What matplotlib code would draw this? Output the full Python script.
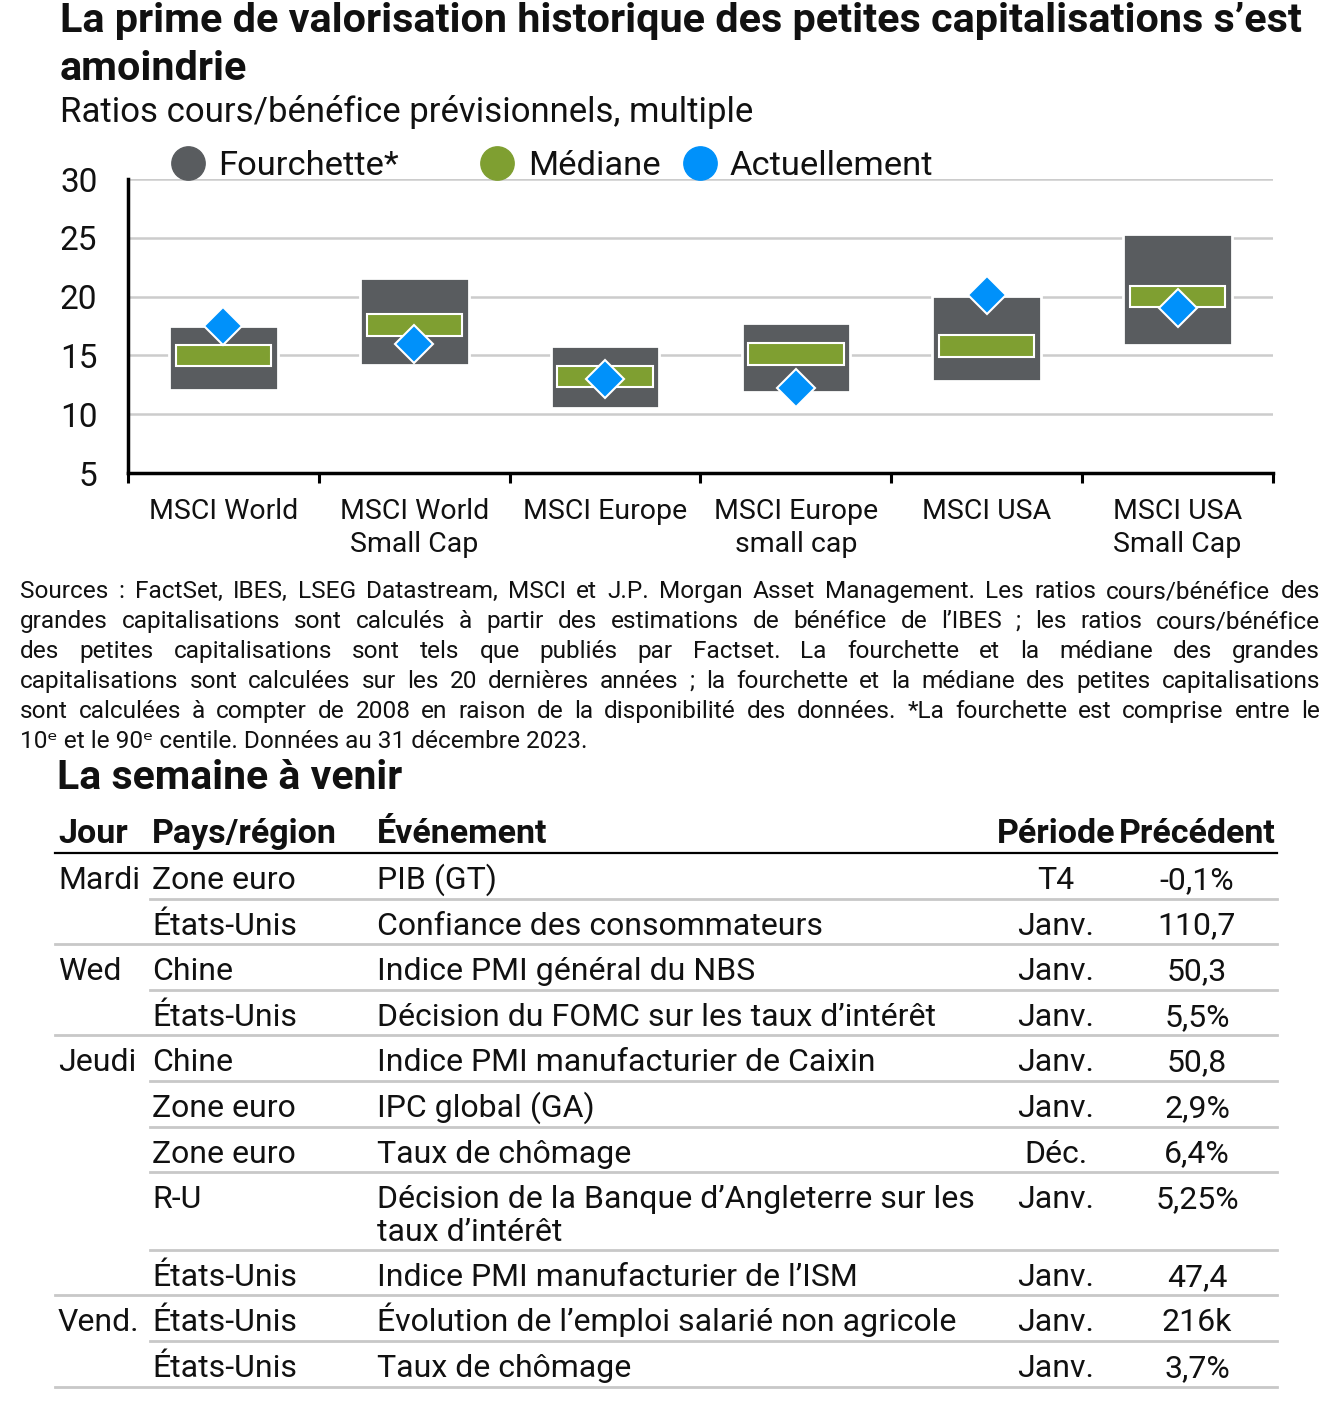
import matplotlib
matplotlib.use("Agg")
import matplotlib.pyplot as plt
from matplotlib.lines import Line2D

plt.rcParams['font.family'] = ['Roboto', 'DejaVu Sans']

W, H = 1331, 1418

def X(x):
    return x / W

def Y(y):
    return 1 - y / H

# données du graphique
categories = ["MSCI World", "MSCI World\nSmall Cap", "MSCI Europe", "MSCI Europe\nsmall cap",
              "MSCI USA", "MSCI USA\nSmall Cap"]
range_low = [12.1, 14.2, 10.5, 11.9, 12.8, 15.9]
range_high = [17.5, 21.6, 15.8, 17.75, 20.05, 25.3]
median = [15.0, 17.6, 13.2, 15.1, 15.8, 20.0]
current = [17.5, 16.0, 13.0, 12.2, 20.1, 19.0]
yticks = [5, 10, 15, 20, 25, 30]

# données du tableau
days = ["Mardi", "", "Wed", "", "Jeudi", "", "", "", "", "Vend.", ""]
countries = ["Zone euro", "États-Unis", "Chine", "États-Unis", "Chine", "Zone euro",
             "Zone euro", "R-U", "États-Unis", "États-Unis", "États-Unis"]
events = ["PIB (GT)", "Confiance des consommateurs", "Indice PMI général du NBS",
          "Décision du FOMC sur les taux d’intérêt", "Indice PMI manufacturier de Caixin",
          "IPC global (GA)", "Taux de chômage",
          "Décision de la Banque d’Angleterre sur les\ntaux d’intérêt",
          "Indice PMI manufacturier de l’ISM", "Évolution de l’emploi salarié non agricole",
          "Taux de chômage"]
periods = ["T4", "Janv.", "Janv.", "Janv.", "Janv.", "Janv.", "Déc.", "Janv.", "Janv.", "Janv.", "Janv."]
previous = ["-0,1%", "110,7", "50,3", "5,5%", "50,8", "2,9%", "6,4%", "5,25%", "47,4", "216k", "3,7%"]

footnote = [
    "Sources : FactSet, IBES, LSEG Datastream, MSCI et J.P. Morgan Asset Management. Les ratios cours/bénéfice des",
    "grandes capitalisations sont calculés à partir des estimations de bénéfice de l’IBES ; les ratios cours/bénéfice",
    "des petites capitalisations sont tels que publiés par Factset. La fourchette et la médiane des grandes",
    "capitalisations sont calculées sur les 20 dernières années ; la fourchette et la médiane des petites capitalisations",
    "sont calculées à compter de 2008 en raison de la disponibilité des données. *La fourchette est comprise entre le",
    "10ᵉ et le 90ᵉ centile. Données au 31 décembre 2023.",
]

gray = "#595C5F"
green = "#7F9F31"
blue = "#0091FA"
txt = "#111111"

fig = plt.figure(figsize=(W / 100, H / 100), dpi=100)

# titre
fig.text(X(60), Y(32), "La prime de valorisation historique des petites capitalisations s’est",
         fontsize=29.8, weight='bold', va='baseline', color=txt)
fig.text(X(60), Y(80), "amoindrie", fontsize=29.8, weight='bold', va='baseline', color=txt)
fig.text(X(60), Y(122), "Ratios cours/bénéfice prévisionnels, multiple", fontsize=25,
         va='baseline', color=txt)

# légende
for cx, tx, col, lab in [(188, 218, gray, "Fourchette*"), (497, 528, green, "Médiane"),
                         (700, 730, blue, "Actuellement")]:
    fig.add_artist(Line2D([X(cx)], [Y(163)], marker='o', ms=24, color=col, ls='none',
                          transform=fig.transFigure))
    fig.text(X(tx), Y(175), lab, fontsize=24.8, va='baseline', color=txt)

# graphique
ax = fig.add_axes([X(128), Y(473), X(1273) - X(128), Y(179) - Y(473)])
pos = list(range(len(categories)))
ax.bar(pos, [h - l for h, l in zip(range_high, range_low)], bottom=range_low, width=0.57,
       color=gray, edgecolor='white', linewidth=2, zorder=2)
ax.bar(pos, [1.85] * len(pos), bottom=[m - 0.925 for m in median], width=0.5,
       color=green, edgecolor='white', linewidth=1.5, zorder=3)
ax.plot(pos, current, ls='none', marker='D', ms=19, color=blue, markeredgecolor='white',
        markeredgewidth=1.5, zorder=4)

ax.set_xlim(-0.5, len(categories) - 0.5)
ax.set_ylim(5, 30)
ax.set_yticks(yticks)
ax.yaxis.grid(True, color='#CCCCCC', linewidth=1.8, zorder=0)
ax.set_axisbelow(True)
ax.set_xticks(pos)
ax.set_xticklabels(categories, fontsize=20.5, color=txt, linespacing=1.3)
ax.set_xticks([p - 0.5 for p in pos] + [len(pos) - 0.5], minor=True)
ax.tick_params(axis='x', which='major', length=0, pad=18)
ax.tick_params(axis='x', which='minor', length=7, width=2.2, direction='out')
ax.tick_params(axis='y', length=0, pad=22, labelsize=24, labelcolor=txt)
for s in ['top', 'right']:
    ax.spines[s].set_visible(False)
ax.spines['left'].set_linewidth(2.5)
ax.spines['bottom'].set_linewidth(2.5)

# note de bas de page justifiée
renderer = fig.canvas.get_renderer()
fn_size = 17.6
left_px, right_px = 20, 1320
for i, line in enumerate(footnote):
    yb = Y(598 + 30 * i)
    if i == len(footnote) - 1:
        fig.text(X(left_px), yb, line, fontsize=fn_size, va='baseline', color=txt)
        continue
    words = line.split(" ")
    arts = [fig.text(0, yb, w, fontsize=fn_size, va='baseline', color=txt) for w in words]
    widths = [a.get_window_extent(renderer).width for a in arts]
    gap = (right_px - left_px - sum(widths)) / (len(words) - 1)
    x = left_px
    for a, w in zip(arts, widths):
        a.set_x(X(x))
        x += w + gap

# tableau
fig.text(X(57), Y(789), "La semaine à venir", fontsize=29.5, weight='bold', va='baseline', color=txt)
hdr_y = Y(843)
hk = dict(fontsize=24.5, weight='bold', va='baseline', color=txt)
fig.text(X(58), hdr_y, "Jour", **hk)
fig.text(X(152), hdr_y, "Pays/région", **hk)
fig.text(X(377), hdr_y, "Événement", **hk)
fig.text(X(1056), hdr_y, "Période", ha='center', **hk)
fig.text(X(1197), hdr_y, "Précédent", ha='center', **hk)
fig.add_artist(Line2D([X(55), X(1277)], [Y(853), Y(853)], color='black', lw=1.6,
                      transform=fig.transFigure))

top = 853
kw = dict(fontsize=23, va='baseline', color=txt)
for i in range(len(events)):
    ev_lines = events[i].split("\n")
    yb = Y(top + 36)
    fig.text(X(58), yb, days[i], **kw)
    fig.text(X(152), yb, countries[i], **kw)
    for k, ev in enumerate(ev_lines):
        fig.text(X(377), Y(top + 36 + 33 * k), ev, **kw)
    fig.text(X(1056), yb, periods[i], ha='center', **kw)
    fig.text(X(1197), yb, previous[i], ha='center', **kw)
    top = top + 45.6 + 32 * (len(ev_lines) - 1)
    new_day = i == len(events) - 1 or days[i + 1] != ""
    x0 = 55 if new_day else 150
    fig.add_artist(Line2D([X(x0), X(1277)], [Y(top), Y(top)], color='#C8C8C8', lw=2,
                          transform=fig.transFigure))

fig.savefig("out.png", dpi=100)
